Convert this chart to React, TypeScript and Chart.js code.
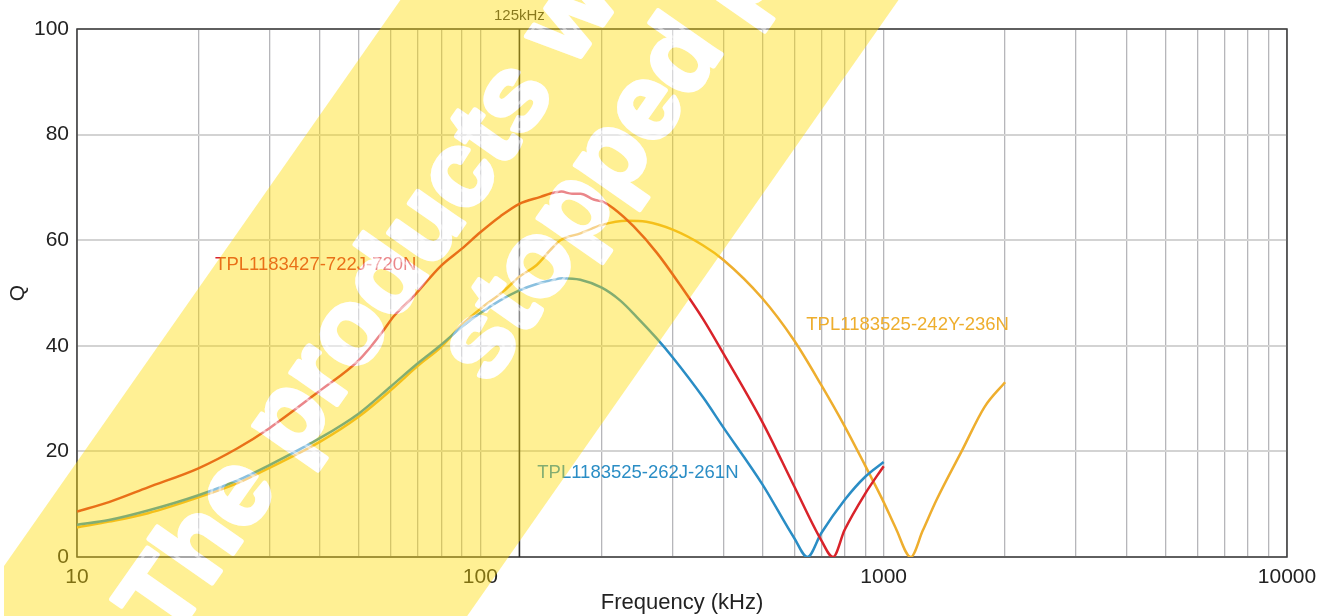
import React, { useEffect, useRef } from 'react';
import { Chart, registerables } from 'chart.js';

Chart.register(...registerables);

// ---------- data ----------
const seriesNames = ['TPL1183427-722J-720N', 'TPL1183525-262J-261N', 'TPL1183525-242Y-236N'];
const seriesColors = ['#d9232a', '#2a8dc5', '#eeae2e'];

const redFreq = [10, 12, 15, 20, 25, 30, 40, 50, 57, 61, 68, 80, 90, 100, 112, 125, 141, 150, 159, 168, 177, 191, 201, 214, 240, 274, 313, 357, 400, 500, 600, 700, 749, 800, 900, 1000];
const redQ = [8.6, 10.4, 13.2, 16.8, 20.6, 24.4, 31.5, 37.3, 42.5, 45.6, 49.2, 55.2, 58.4, 61.5, 64.5, 66.9, 68.2, 68.9, 69.2, 68.8, 68.8, 67.7, 67.3, 66.0, 62.6, 57.6, 51.5, 45.0, 38.6, 25.6, 13.4, 3.2, 0, 5.1, 12.0, 17.2];

const blueFreq = [10, 12, 15, 20, 25, 30, 40, 50, 60, 70, 80, 90, 100, 112, 125, 138, 150, 160, 177, 200, 222, 244, 273, 300, 357, 400, 500, 600, 647, 700, 800, 900, 1000];
const blueQ = [6.1, 7.0, 8.8, 11.7, 14.5, 17.4, 22.5, 27.2, 32.3, 36.7, 40.2, 43.6, 46.2, 48.6, 50.5, 51.7, 52.4, 52.8, 52.5, 51.0, 48.6, 45.5, 41.5, 37.8, 30.2, 24.6, 13.8, 3.6, 0, 4.5, 10.8, 15.2, 18.0];

const yellowFreq = [10, 12, 15, 20, 25, 30, 40, 50, 60, 70, 80, 90, 100, 114, 125, 138, 149, 158, 177, 200, 231, 258, 300, 357, 400, 500, 600, 700, 800, 900, 1000, 1071, 1167, 1250, 1352, 1567, 1778, 2000];
const yellowQ = [5.6, 6.7, 8.3, 11.3, 14.0, 16.9, 21.8, 26.6, 31.6, 36.2, 39.8, 44.0, 47.0, 50.3, 53.1, 55.3, 58.1, 60.0, 61.3, 62.9, 63.7, 63.5, 62.0, 59.0, 56.3, 49.0, 41.0, 32.6, 24.8, 17.3, 10.4, 5.5, 0, 5.0, 10.8, 20.3, 28.4, 33.1];

const seriesFreq = [redFreq, blueFreq, yellowFreq];
const seriesQ = [redQ, blueQ, yellowQ];

// in-plot labels anchored at (frequency, Q)
const labelFreq = [22.0, 138.4, 643];
const labelQ = [55.3, 15.9, 43.9];

const xGridValues = [10, 20, 30, 40, 50, 60, 70, 80, 90, 100, 200, 300, 400, 500, 600, 700, 800, 900, 1000, 2000, 3000, 4000, 5000, 6000, 7000, 8000, 9000, 10000];
const xLabelValues = [10, 100, 1000, 10000];
const yTickValues = [0, 20, 40, 60, 80, 100];

const markerFreq = 125;
const markerLabel = '125kHz';

const xTitle = 'Frequency (kHz)';
const yTitle = 'Q';

const watermarkLines = ['The products will be', 'stopped production.'];

const FONT = "'Liberation Sans', Arial, Helvetica, sans-serif";
const W = 1331;
const H = 616;

export default function App() {
  const ref = useRef<HTMLCanvasElement | null>(null);

  useEffect(() => {
    const canvas = ref.current;
    if (!canvas) return;

    const drawWatermarkText = (c: CanvasRenderingContext2D) => {
      c.font = `bold 106px ${FONT}`;
      c.textBaseline = 'alphabetic';
      c.lineJoin = 'round';
      c.lineWidth = 5;
      c.fillText(watermarkLines[0], -428, 508);
      c.strokeText(watermarkLines[0], -428, 508);
      c.fillText(watermarkLines[1], -36, 622);
      c.strokeText(watermarkLines[1], -36, 622);
    };

    const framePlugin = {
      id: 'framePlugin',
      beforeDatasetsDraw(chart: any) {
        const { ctx, chartArea: a } = chart;
        ctx.save();
        ctx.strokeStyle = '#3a3a3a';
        ctx.lineWidth = 1.5;
        ctx.strokeRect(a.left, a.top, a.right - a.left, a.bottom - a.top);
        const xs = chart.scales.x;
        const px = xs.getPixelForValue(markerFreq);
        ctx.strokeStyle = '#2a2a2a';
        ctx.lineWidth = 1.6;
        ctx.beginPath();
        ctx.moveTo(px, a.top);
        ctx.lineTo(px, a.bottom);
        ctx.stroke();
        ctx.fillStyle = '#333';
        ctx.font = `15px ${FONT}`;
        ctx.textAlign = 'center';
        ctx.textBaseline = 'middle';
        ctx.fillText(markerLabel, px, a.top - 13);
        ctx.restore();
      },
      afterDatasetsDraw(chart: any) {
        const { ctx } = chart;
        const xs = chart.scales.x;
        const ys = chart.scales.y;
        ctx.save();
        ctx.font = `18.5px ${FONT}`;
        ctx.textAlign = 'left';
        ctx.textBaseline = 'middle';
        for (let i = 0; i < seriesNames.length; i++) {
          ctx.fillStyle = seriesColors[i];
          ctx.fillText(seriesNames[i], xs.getPixelForValue(labelFreq[i]), ys.getPixelForValue(labelQ[i]));
        }
        ctx.restore();
      },
      afterDraw(chart: any) {
        const { ctx } = chart;
        const ang = (-55 * Math.PI) / 180;
        const off = document.createElement('canvas');
        off.width = W;
        off.height = H;
        const o = off.getContext('2d') as CanvasRenderingContext2D;
        o.save();
        o.rotate(ang);
        o.fillStyle = 'rgb(255,219,0)';
        o.fillRect(-3000, 328, 6000, 408);
        o.globalCompositeOperation = 'destination-out';
        o.fillStyle = '#000';
        o.strokeStyle = '#000';
        drawWatermarkText(o);
        o.restore();
        o.clearRect(0, 0, 4, H);

        ctx.save();
        ctx.globalAlpha = 0.42;
        ctx.drawImage(off, 0, 0);
        ctx.globalAlpha = 0.45;
        ctx.fillStyle = '#ffffff';
        ctx.strokeStyle = '#ffffff';
        ctx.rotate(ang);
        drawWatermarkText(ctx);
        ctx.restore();
      },
    };

    const datasets = seriesNames.map((name, i) => ({
      label: name,
      data: seriesFreq[i].map((f, j) => ({ x: f, y: seriesQ[i][j] })),
      borderColor: seriesColors[i],
      backgroundColor: seriesColors[i],
      borderWidth: 2.5,
      pointRadius: 0,
      fill: false,
      cubicInterpolationMode: 'monotone' as const,
    }));

    const chart = new Chart(canvas, {
      type: 'line',
      data: { datasets },
      options: {
        animation: false,
        responsive: false,
        devicePixelRatio: 1,
        layout: { padding: { left: 0, right: 44, top: 29, bottom: 0 } },
        plugins: {
          legend: { display: false },
          tooltip: { enabled: false },
        },
        scales: {
          x: {
            type: 'logarithmic',
            min: 10,
            max: 10000,
            afterBuildTicks: (s: any) => {
              s.ticks = xGridValues.map((v) => ({ value: v }));
            },
            afterFit: (s: any) => {
              s.height = 59;
            },
            grid: { color: '#b6b6ba', lineWidth: 1.3, drawTicks: false },
            border: { display: false },
            ticks: {
              autoSkip: false,
              maxRotation: 0,
              padding: 8,
              color: '#222',
              font: { family: FONT, size: 21 },
              callback: (v: any) => (xLabelValues.includes(Number(v)) ? String(v) : ''),
            },
            title: {
              display: true,
              text: xTitle,
              color: '#222',
              font: { family: FONT, size: 22 },
              padding: 0,
            },
          },
          y: {
            type: 'linear',
            min: 0,
            max: 100,
            afterBuildTicks: (s: any) => {
              s.ticks = yTickValues.map((v) => ({ value: v }));
            },
            afterFit: (s: any) => {
              s.width = 77;
            },
            grid: { color: '#d3d3d3', lineWidth: 2, drawTicks: false },
            border: { display: false },
            ticks: {
              padding: 8,
              color: '#222',
              font: { family: FONT, size: 21 },
            },
            title: {
              display: true,
              text: yTitle,
              color: '#222',
              font: { family: FONT, size: 21 },
              padding: 6,
            },
          },
        },
      },
      plugins: [framePlugin],
    });

    return () => chart.destroy();
  }, []);

  return (
    <div style={{ position: 'fixed', left: 0, top: 0, width: W, height: H, background: '#fff' }}>
      <canvas ref={ref} width={W} height={H} style={{ display: 'block', width: W, height: H }} />
    </div>
  );
}
